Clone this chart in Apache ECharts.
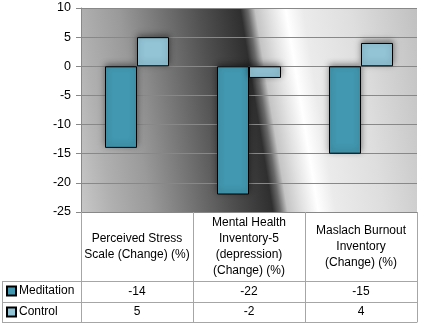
<!DOCTYPE html>
<html><head><meta charset="utf-8">
<script src="https://cdn.jsdelivr.net/npm/echarts@6/dist/echarts.min.js"></script>
<style>html,body{margin:0;padding:0;background:#fff}#c{width:422px;height:326px}</style>
</head><body><div id="c"></div>
<script>
const categories = ['Perceived Stress\nScale (Change) (%)', 'Mental Health\nInventory-5\n(depression)\n(Change) (%)', 'Maslach Burnout\nInventory\n(Change) (%)'];
const seriesNames = ['Meditation', 'Control'];
const meditation = [-14, -22, -15];
const control = [5, -2, 4];
const yMin = -25, yMax = 10, yStep = 5;

const FONT = 'Liberation Sans';
const TXT = '#000';
const TABLE = '#a6a6a6';
const chart = echarts.init(document.getElementById('c'), null, {renderer: 'canvas'});

const bg = new echarts.graphic.LinearGradient(0, 1, 1.071, 0.715, [
  {offset: 0, color: '#c8c8c8'},
  {offset: 0.085, color: '#b0b0b0'},
  {offset: 0.19, color: '#9a9a9a'},
  {offset: 0.41, color: '#505050'},
  {offset: 0.52, color: '#2f2f2f'},
  {offset: 0.54, color: '#6a6a6a'},
  {offset: 0.56, color: '#c4c4c4'},
  {offset: 0.60, color: '#e2e2e2'},
  {offset: 0.643, color: '#ffffff'},
  {offset: 0.69, color: '#ebebeb'},
  {offset: 0.82, color: '#dedede'},
  {offset: 1, color: '#c0c0c0'}
]);

const shadow = {shadowColor: 'rgba(0,0,0,0.45)', shadowBlur: 6, shadowOffsetY: -2};

function rowAxis(offset, values, margin) {
  return {
    type: 'category', data: categories, position: 'bottom', offset: offset,
    axisLine: {show: true, onZero: false, lineStyle: {color: TABLE, width: 1}},
    axisTick: {show: false},
    splitLine: {show: false},
    axisLabel: values ? {
      show: true, interval: 0, margin: margin, verticalAlign: 'middle',
      fontFamily: FONT, fontSize: 12, color: TXT,
      formatter: (v, i) => String(values[i])
    } : {show: false}
  };
}

chart.setOption({
  animation: false,
  backgroundColor: '#fff',
  grid: {left: 81, right: 5, top: 8, bottom: 114, show: true, backgroundColor: bg, borderWidth: 0},
  legend: {
    orient: 'vertical', left: 6, top: 285, padding: 0, itemGap: 9,
    icon: 'rect', itemWidth: 9, itemHeight: 9,
    textStyle: {fontFamily: FONT, fontSize: 12, color: TXT, padding: [0, 0, 0, -2]},
    data: seriesNames
  },
  xAxis: [
    {
      type: 'category', data: categories, position: 'bottom',
      axisLine: {show: true, onZero: false, lineStyle: {color: '#888', width: 1}},
      axisTick: {show: true, length: 110, interval: 0, lineStyle: {color: TABLE}},
      axisLabel: {interval: 0, margin: 35, verticalAlign: 'middle', lineHeight: 16,
        fontFamily: FONT, fontSize: 12, color: TXT, align: 'center'},
      splitLine: {show: false}
    },
    rowAxis(69, meditation, 11),
    rowAxis(90, control, 10),
    rowAxis(110, null, 0)
  ],
  yAxis: {
    type: 'value', min: yMin, max: yMax, interval: yStep,
    axisLine: {show: true, lineStyle: {color: '#888', width: 1}},
    axisTick: {show: true, length: 5, lineStyle: {color: '#888'}},
    axisLabel: {margin: 10, fontFamily: FONT, fontSize: 12.5, color: TXT},
    splitLine: {show: true, lineStyle: {color: '#888', width: 1}}
  },
  series: [
    {name: seriesNames[0], type: 'bar', data: meditation, barWidth: 32, barGap: '0%',
      itemStyle: Object.assign({color: '#4298b0', borderColor: '#000', borderWidth: 1}, shadow)},
    {name: seriesNames[1], type: 'bar', data: control, barWidth: 32, barGap: '0%',
      itemStyle: Object.assign({color: '#92c4d6', borderColor: '#000', borderWidth: 1}, shadow)}
  ],
  graphic: [
    {type: 'line', shape: {x1: 2, y1: 281.5, x2: 81, y2: 281.5}, style: {stroke: TABLE, lineWidth: 1}},
    {type: 'line', shape: {x1: 2, y1: 302.5, x2: 81, y2: 302.5}, style: {stroke: TABLE, lineWidth: 1}},
    {type: 'line', shape: {x1: 2, y1: 322.5, x2: 81, y2: 322.5}, style: {stroke: TABLE, lineWidth: 1}},
    {type: 'line', shape: {x1: 2.5, y1: 281, x2: 2.5, y2: 323}, style: {stroke: TABLE, lineWidth: 1}}
  ]
});
</script></body></html>
